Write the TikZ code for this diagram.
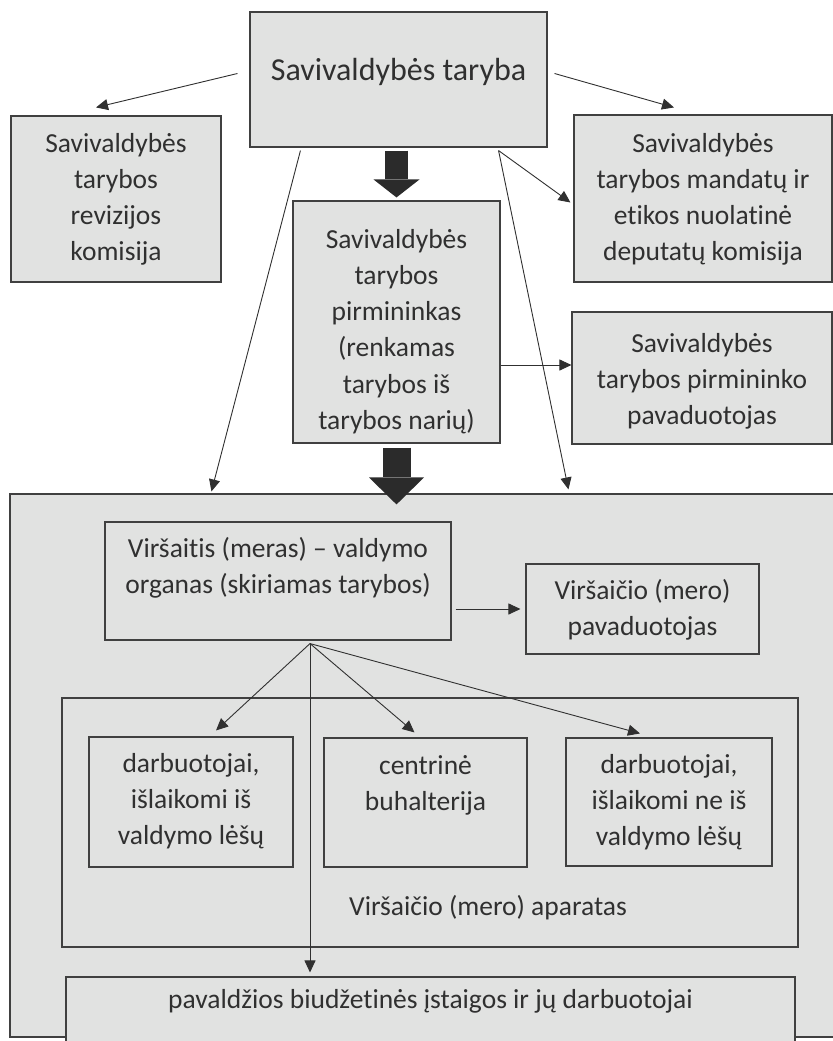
\documentclass[tikz,border=0pt]{standalone}
\usepackage{fontspec}
\setmainfont{Carlito}[Ligatures={TeX,NoCommon}]
\usepackage{xcolor}
\definecolor{boxline}{HTML}{404040}
\definecolor{boxfill}{HTML}{E1E2E1}
\definecolor{ink}{HTML}{303030}
\definecolor{blockfill}{HTML}{2B2B2B}
\usepackage{tikz}
\usetikzlibrary{arrows.meta}
\newcommand{\boxtext}[4]{\parbox[c][#2][t]{#1}{\centering\vspace*{#3}\strut#4}}

\begin{document}
\begin{tikzpicture}[x=1bp,y=-1bp,
  every node/.style={text=ink},
  box/.style={draw=boxline,fill=boxfill,line width=1.1bp,inner sep=0pt,font=\fontsize{27.5bp}{36.3bp}\selectfont},
  arr/.style={draw=ink,line width=0.9bp,-{Triangle[length=12bp,width=11bp]}}]
\useasboundingbox (0,0) rectangle (833,1041);
\clip (0,0) rectangle (833,1041);
% council and its commissions
\node[box,font=\fontsize{32bp}{38bp}\selectfont] (council) at (398.5,79.5) {\boxtext{297bp}{135bp}{41.4bp}{Savivaldybės taryba}};
\node[box] (audit) at (116,199) {\boxtext{210bp}{166bp}{10.6bp}{Savivaldybės\\tarybos\\revizijos\\komisija}};
\node[box] (ethics) at (703,198.5) {\boxtext{258bp}{167bp}{11.6bp}{Savivaldybės\\tarybos mandatų ir\\etikos nuolatinė\\deputatų komisija}};
\node[box] (chair) at (396.5,322) {\boxtext{207bp}{242bp}{21.6bp}{Savivaldybės\\tarybos\\pirmininkas\\(renkamas\\tarybos iš\\tarybos narių)}};
\node[box] (deputy) at (702,378) {\boxtext{260bp}{132bp}{14.6bp}{Savivaldybės\\tarybos pirmininko\\pavaduotojas}};
% executive part
\node[box,minimum width=835bp,minimum height=543bp] (executive) at (427.5,765.5) {};
\node[box] (mayor) at (278,581) {\boxtext{346bp}{118bp}{9.6bp}{Viršaitis (meras) – valdymo\\organas (skiriamas tarybos)}};
\node[box] (mayordep) at (642.5,609) {\boxtext{233bp}{90bp}{10.2bp}{Viršaičio (mero)\\pavaduotojas}};
\node[box] (apparatus) at (430,822.5) {\boxtext{736bp}{249bp}{0bp}{}};
\node[box] (staffin) at (191,802) {\boxtext{204bp}{130bp}{9.6bp}{darbuotojai,\\išlaikomi iš\\valdymo lėšų}};
\node[box] (accounting) at (425.5,802.5) {\boxtext{203bp}{129bp}{10.6bp}{centrinė\\buhalterija}};
\node[box] (staffout) at (669,802) {\boxtext{206bp}{128bp}{9.6bp}{darbuotojai,\\išlaikomi ne iš\\valdymo lėšų}};
\node[anchor=base,font=\fontsize{27.5bp}{36.3bp}\selectfont] (apparatuslabel) at (488,915) {Viršaičio (mero) aparatas};
\node[box] (institutions) at (430.5,1013.5) {\boxtext{729bp}{73bp}{5.6bp}{pavaldžios biudžetinės įstaigos ir jų darbuotojai}};
% connectors
\draw[arr] ([xshift=-12bp,yshift=6bp]council.west) -- ([xshift=-20bp,yshift=8bp]audit.north);
\draw[arr] ([xshift=7bp,yshift=6bp]council.east) -- ([xshift=-29bp,yshift=7bp]ethics.north);
\draw[arr] ([xshift=-49bp,yshift=-3bp]council.south east) -- ([xshift=-3bp,yshift=-4bp]ethics.west);
\draw[arr] ([xshift=51bp,yshift=-3bp]council.south west) -- ([xshift=202bp,yshift=2bp]executive.north west);
\draw[arr] ([xshift=-49bp,yshift=-3bp]council.south east) -- ([xshift=559bp,yshift=4bp]executive.north west);
\draw[blockfill,line width=23bp,shorten <=3bp,shorten >=3bp,-{Triangle[length=18bp,width=46bp,line width=0pt]}] (council.south -| chair.north) -- (chair.north);
\draw[blockfill,line width=28bp,shorten <=4bp,shorten >=-11bp,-{Triangle[length=27bp,width=55bp,line width=0pt]}] (chair.south) -- (chair.south |- executive.north);
\coordinate (chairout) at ([yshift=-43bp]chair.east);
\draw[arr] (chairout) -- (chairout -| deputy.west);
\draw[arr,shorten <=4bp,shorten >=5bp] (mayor.east |- mayordep.west) -- (mayordep.west);
\coordinate (fan) at ([xshift=32bp,yshift=-3bp]mayor.south);
\draw[arr] (fan) -- ([xshift=25bp,yshift=6bp]staffin.north);
\draw[arr] (fan) -- ([xshift=-11bp,yshift=5bp]accounting.north);
\draw[arr] (fan) -- ([xshift=-29bp,yshift=4bp]staffout.north);
\draw[arr,shorten >=4bp] (fan) -- (fan |- institutions.north);
\end{tikzpicture}
\end{document}
